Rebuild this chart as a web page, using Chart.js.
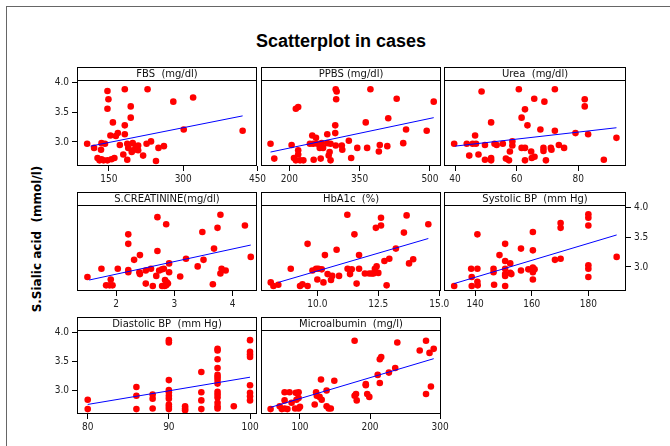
<!DOCTYPE html>
<html>
<head>
<meta charset="utf-8">
<script src="https://cdn.jsdelivr.net/npm/chart.js@4.4.1/dist/chart.umd.min.js"></script>
<style>
  body { margin: 0; background: #fff; }
  #wrap { position: relative; width: 670px; height: 446px; overflow: hidden; background: #fff; }
  #frame { position: absolute; left: 6px; top: 6px; width: 700px; height: 500px; border-left: 1px solid #666; border-top: 1px solid #666; }
  #title { position: absolute; left: 0; width: 682px; top: 31px; line-height: 20px; text-align: center; font: bold 18px 'Liberation Sans', Arial, sans-serif; color: #000; }
  #ylab { position: absolute; left: 37px; top: 239px; transform: translate(-50%, -50%) rotate(-90deg); white-space: pre; font: bold 12px 'DejaVu Sans', sans-serif; color: #000; }
  canvas { position: absolute; }
</style>
</head>
<body>
<div id="wrap">
  <div id="frame"></div>
  <div id="title">Scatterplot in cases</div>
  <div id="ylab">S.Sialic acid  (mmol/l)</div>
</div>
<script>
// values
const yTicks = [3.0, 3.5, 4.0];

const fbsX = [106, 120, 135, 134, 142, 127, 131, 139, 147, 155, 161, 147, 149, 147, 158, 153, 164, 168, 172, 182, 182, 182, 194, 194, 187, 179, 187, 198, 199, 204, 209, 209, 189, 219, 226, 228, 235, 245, 250, 261, 280, 301, 320, 420, 135, 196];
const fbsY = [2.97, 2.90, 2.98, 2.87, 2.97, 2.73, 2.69, 2.69, 2.69, 2.71, 2.73, 3.86, 3.72, 3.56, 3.33, 3.11, 3.10, 3.15, 2.95, 3.89, 3.28, 3.13, 3.60, 3.41, 2.97, 2.79, 2.70, 2.98, 2.86, 2.90, 2.94, 2.86, 2.90, 2.77, 2.97, 3.89, 3.01, 2.68, 2.90, 2.93, 3.68, 3.21, 3.75, 3.19, 2.71, 2.83];
const fbsFitX = [113, 420];
const fbsFitY = [2.93, 3.44];
const fbsTicks = [150, 300, 450];

const ppbsX = [160, 168, 205, 210, 214, 219, 219, 223, 230, 214, 219, 244, 249, 257, 252, 260, 265, 267, 281, 281, 286, 284, 288, 288, 299, 301, 300, 298, 298, 299, 312, 313, 327, 332, 345, 363, 366, 373, 391, 393, 409, 411, 429, 443, 449, 493, 508, 272, 251, 269];
const ppbsY = [2.97, 2.72, 2.95, 2.73, 2.69, 2.86, 2.79, 2.69, 2.69, 3.56, 3.59, 2.97, 3.11, 3.07, 2.70, 2.97, 2.90, 2.72, 3.13, 2.98, 2.83, 2.77, 2.69, 2.97, 3.89, 3.85, 3.72, 3.28, 3.15, 2.94, 2.94, 2.87, 3.02, 2.73, 2.90, 3.33, 2.90, 3.89, 2.84, 2.95, 2.93, 3.40, 3.73, 2.98, 3.21, 3.19, 3.68, 2.90, 2.97, 2.98];
const ppbsFitX = [160, 508];
const ppbsFitY = [2.83, 3.41];
const ppbsTicks = [200, 350, 500];

const ureaX = [39.7, 43.8, 44.6, 45.7, 46.5, 46.8, 47.6, 48.6, 49.7, 49.7, 51.7, 51.7, 51.7, 52.8, 53.5, 55.5, 56.5, 57.5, 57.8, 58.6, 58.6, 60.7, 61.6, 61.6, 62.7, 62.7, 62.7, 63.5, 64.7, 64.9, 65.8, 65.7, 67.7, 68.7, 68.7, 69.0, 69.5, 71.1, 71.3, 72.4, 72.4, 73.7, 75.4, 79.1, 82.1, 82.1, 83.2, 88.3, 92.4];
const ureaY = [2.97, 2.97, 2.77, 2.97, 3.11, 2.97, 2.79, 3.85, 2.95, 2.70, 3.33, 2.73, 2.69, 2.97, 2.95, 2.97, 2.72, 2.69, 2.84, 3.01, 2.94, 3.89, 3.41, 2.90, 2.90, 3.55, 2.69, 3.28, 2.84, 2.73, 2.75, 3.73, 3.21, 2.90, 2.85, 3.68, 2.69, 2.90, 2.87, 3.89, 3.19, 2.95, 2.90, 3.15, 3.72, 3.60, 3.13, 2.70, 3.07];
const ureaFitX = [40, 92.4];
const ureaFitY = [2.93, 3.24];
const ureaTicks = [40, 60, 80];

const creatX = [1.51, 1.75, 1.83, 1.89, 1.94, 1.91, 2.03, 2.21, 2.21, 2.21, 2.21, 2.31, 2.41, 2.40, 2.41, 2.51, 2.51, 2.60, 2.63, 2.71, 2.71, 2.69, 2.74, 2.79, 2.82, 2.86, 2.84, 2.86, 2.89, 2.91, 2.91, 2.83, 3.10, 3.20, 3.40, 3.48, 3.50, 3.66, 3.68, 3.74, 3.79, 3.81, 3.79, 3.88, 4.21, 4.31, 2.79, 2.87];
const creatY = [2.83, 2.97, 2.69, 2.69, 2.69, 2.79, 2.97, 3.55, 3.39, 2.95, 2.91, 3.12, 3.20, 2.91, 2.88, 2.72, 2.94, 2.97, 2.68, 3.84, 3.27, 2.85, 2.94, 2.96, 2.97, 3.72, 2.78, 2.69, 2.72, 3.06, 2.91, 2.68, 2.84, 3.14, 3.01, 3.59, 3.12, 2.71, 3.31, 3.66, 3.88, 2.97, 2.89, 2.94, 3.70, 3.17, 2.68, 2.74];
const creatFitX = [1.54, 4.31];
const creatFitY = [2.78, 3.37];
const creatTicks = [2, 3, 4];

const hbaX = [8.09, 8.20, 8.40, 8.91, 9.29, 9.39, 9.60, 9.60, 9.80, 9.95, 10.04, 10.0, 10.18, 10.25, 10.31, 10.42, 10.56, 10.61, 10.79, 10.89, 11.23, 11.24, 11.34, 11.41, 11.52, 11.61, 11.71, 11.71, 11.95, 12.13, 12.30, 12.36, 12.43, 12.50, 12.40, 12.61, 12.61, 12.75, 12.95, 12.84, 13.22, 13.55, 13.66, 13.76, 13.93, 14.55, 12.23];
const hbaY = [2.74, 2.68, 2.70, 2.97, 2.68, 2.71, 3.39, 2.68, 2.94, 2.97, 2.97, 2.79, 2.96, 2.74, 3.20, 2.88, 2.78, 2.85, 3.29, 2.85, 3.88, 2.97, 2.88, 2.96, 3.55, 2.72, 3.20, 2.97, 2.89, 2.89, 2.89, 2.97, 3.01, 2.90, 3.66, 3.83, 3.70, 3.10, 3.14, 2.69, 3.31, 3.58, 3.87, 3.06, 3.13, 3.72, 2.89];
const hbaFitX = [8.40, 14.55];
const hbaFitY = [2.74, 3.48];
const hbaTicks = [10.0, 12.5, 15.0];

const sysX = [132.6, 138.6, 138.8, 138.8, 140.8, 140.8, 140.9, 140.8, 146.5, 146.5, 146.7, 148.6, 150.6, 150.6, 150.6, 150.6, 150.6, 150.6, 152.4, 152.4, 156.2, 156.2, 158.8, 160.4, 160.4, 160.4, 160.4, 160.4, 168.2, 170.2, 170.2, 170.2, 180, 180, 180, 180, 180, 180, 190, 152.8, 161];
const sysY = [2.68, 2.97, 2.83, 2.68, 2.97, 2.75, 2.69, 3.55, 2.97, 2.91, 2.70, 3.20, 3.39, 3.10, 2.97, 2.88, 2.85, 2.68, 3.06, 2.90, 3.31, 2.94, 2.96, 3.59, 3.28, 2.99, 2.91, 2.79, 3.12, 3.14, 3.74, 3.66, 3.89, 3.83, 3.70, 3.03, 2.97, 2.83, 3.17, 2.88, 2.96];
const sysFitX = [132.6, 190];
const sysFitY = [2.72, 3.54];
const sysTicks = [140, 160, 180];

const diaX = [80, 80, 86, 86, 86, 88, 88, 88, 90, 90, 90, 90, 90, 90, 90, 90, 90, 90, 92, 92, 92, 94, 94, 94, 94, 96, 96, 96, 96, 96, 96, 96, 96, 96, 96, 96, 96, 96, 96, 98, 100, 100, 100, 100, 100, 100, 100, 100];
const diaY = [2.84, 2.68, 3.06, 2.91, 2.68, 2.93, 2.86, 2.69, 3.87, 3.83, 3.18, 3.01, 2.97, 2.91, 2.86, 2.76, 2.72, 2.68, 2.73, 2.69, 2.66, 3.32, 2.97, 2.83, 2.68, 3.72, 3.69, 3.54, 3.39, 3.27, 3.23, 3.18, 3.12, 2.98, 2.93, 2.88, 2.79, 2.73, 2.69, 2.73, 3.87, 3.67, 3.62, 3.58, 3.09, 2.96, 2.90, 2.83];
const diaFitX = [80, 100];
const diaFitY = [2.76, 3.23];
const diaTicks = [80, 90, 100];

const microX = [58, 71, 78, 78, 78, 74, 82, 85, 88, 94, 98, 98, 95, 93, 98, 100, 121, 123, 124, 128, 131, 130, 138, 138, 141, 144, 149, 178, 178, 180, 181, 194, 196, 199, 211, 214, 216, 214, 227, 236, 239, 271, 280, 285, 291, 280, 287, 194];
const microY = [2.68, 2.73, 2.97, 2.83, 2.69, 2.68, 2.68, 2.97, 2.79, 2.96, 2.97, 2.87, 2.84, 2.69, 2.69, 2.72, 2.76, 2.97, 2.91, 2.89, 2.84, 3.19, 3.00, 2.73, 2.69, 2.69, 3.17, 3.86, 2.91, 2.94, 2.83, 3.11, 2.94, 2.89, 3.27, 3.54, 3.58, 3.13, 3.31, 3.39, 3.83, 3.69, 3.86, 3.65, 3.72, 2.94, 3.07, 3.09];
const microFitX = [58, 291];
const microFitY = [2.71, 3.55];
const microTicks = [100, 200, 300];

// lattice geometry
const colLeft = [77, 261, 444];
const colRight = [257, 441, 626];
const rowTop = [80, 205, 330];
const rowBottom = [166, 291, 414];
const STRIP = 13, M = 40, TOP = 16, BOTTOM = 30;
const Y_MIN = 2.595, Y_MAX = 4.045;

const panels = [
  { title: 'FBS  (mg/dl)', x: fbsX, y: fbsY, fx: fbsFitX, fy: fbsFitY, ticks: fbsTicks, min: 85.5, max: 449, dec: 0, col: 0, row: 0, yAxis: 'left' },
  { title: 'PPBS (mg/dl)', x: ppbsX, y: ppbsY, fx: ppbsFitX, fy: ppbsFitY, ticks: ppbsTicks, min: 139.7, max: 523.5, dec: 0, col: 1, row: 0 },
  { title: 'Urea  (mg/dl)', x: ureaX, y: ureaY, fx: ureaFitX, fy: ureaFitY, ticks: ureaTicks, min: 36.4, max: 95.5, dec: 0, col: 2, row: 0 },
  { title: 'S.CREATININE(mg/dl)', x: creatX, y: creatY, fx: creatFitX, fy: creatFitY, ticks: creatTicks, min: 1.331, max: 4.417, dec: 0, col: 0, row: 1 },
  { title: 'HbA1c  (%)', x: hbaX, y: hbaY, fx: hbaFitX, fy: hbaFitY, ticks: hbaTicks, min: 7.69, max: 15.07, dec: 1, col: 1, row: 1 },
  { title: 'Systolic BP  (mm Hg)', x: sysX, y: sysY, fx: sysFitX, fy: sysFitY, ticks: sysTicks, min: 129, max: 193.3, dec: 0, col: 2, row: 1, yAxis: 'right' },
  { title: 'Diastolic BP  (mm Hg)', x: diaX, y: diaY, fx: diaFitX, fy: diaFitY, ticks: diaTicks, min: 78.68, max: 100.86, dec: 0, col: 0, row: 2, yAxis: 'left' },
  { title: 'Microalbumin  (mg/l)', x: microX, y: microY, fx: microFitX, fy: microFitY, ticks: microTicks, min: 44.3, max: 301.4, dec: 0, col: 1, row: 2 }
];

Chart.defaults.font.family = "'DejaVu Sans Condensed', 'DejaVu Sans', sans-serif";
Chart.defaults.font.size = 10;
Chart.defaults.color = '#222';

// box round the plot plus the title strip on top
const panelFrame = {
  id: 'panelFrame',
  afterDraw(chart, args, opts) {
    const { ctx, chartArea: a } = chart;
    const l = Math.round(a.left) + 0.5, r = Math.round(a.right) - 0.5;
    const t = Math.round(a.top) + 0.5, b = Math.round(a.bottom) - 0.5;
    ctx.save();
    ctx.strokeStyle = '#000';
    ctx.lineWidth = 1;
    ctx.strokeRect(l, t, r - l, b - t);
    ctx.strokeRect(l, t - STRIP, r - l, STRIP);
    ctx.fillStyle = '#111';
    ctx.font = "10px 'DejaVu Sans', sans-serif";
    ctx.textAlign = 'center';
    ctx.textBaseline = 'middle';
    ctx.fillText(opts.text, (l + r) / 2, t - STRIP / 2 + 0.5);
    ctx.restore();
  }
};

const wrap = document.getElementById('wrap');

function makePanel(p) {
  const w = colRight[p.col] - colLeft[p.col] + 2 * M;
  const h = rowBottom[p.row] - rowTop[p.row] + TOP + BOTTOM;
  const cv = document.createElement('canvas');
  cv.width = w;
  cv.height = h;
  cv.style.left = (colLeft[p.col] - M) + 'px';
  cv.style.top = (rowTop[p.row] - TOP) + 'px';
  cv.style.width = w + 'px';
  cv.style.height = h + 'px';
  wrap.appendChild(cv);

  const axisGrid = { drawOnChartArea: false, drawTicks: true, tickLength: 5, color: '#000', lineWidth: 1 };

  new Chart(cv, {
    type: 'scatter',
    data: {
      datasets: [
        {
          data: p.fx.map((v, i) => ({ x: v, y: p.fy[i] })),
          showLine: true,
          borderColor: '#0000ff',
          borderWidth: 1,
          pointRadius: 0
        },
        {
          data: p.x.map((v, i) => ({ x: v, y: p.y[i] })),
          backgroundColor: '#ff0000',
          borderWidth: 0,
          pointRadius: 3.3
        }
      ]
    },
    options: {
      responsive: false,
      animation: false,
      events: [],
      layout: {
        autoPadding: false,
        padding: {
          top: TOP,
          bottom: 0,
          left: p.yAxis === 'left' ? 0 : M,
          right: p.yAxis === 'right' ? 0 : M
        }
      },
      plugins: {
        legend: { display: false },
        tooltip: { enabled: false },
        panelFrame: { text: p.title }
      },
      scales: {
        x: {
          type: 'linear',
          min: p.min,
          max: p.max,
          grid: axisGrid,
          border: { display: false },
          afterBuildTicks: s => { s.ticks = p.ticks.map(v => ({ value: v })); },
          afterFit: s => { s.height = BOTTOM; },
          ticks: { autoSkip: false, maxRotation: 0, padding: 2, callback: v => v.toFixed(p.dec) }
        },
        y: {
          display: !!p.yAxis,
          position: p.yAxis || 'left',
          min: Y_MIN,
          max: Y_MAX,
          grid: axisGrid,
          border: { display: false },
          afterBuildTicks: s => { s.ticks = yTicks.map(v => ({ value: v })); },
          afterFit: s => { s.width = p.yAxis ? M : 0; },
          ticks: { padding: 3, callback: v => v.toFixed(1) }
        }
      }
    },
    plugins: [panelFrame]
  });
}

panels.forEach(makePanel);
</script>
</body>
</html>
